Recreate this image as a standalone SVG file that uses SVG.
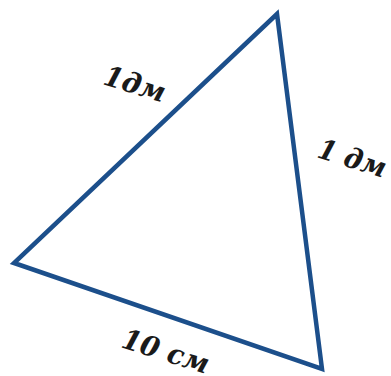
<svg xmlns="http://www.w3.org/2000/svg" width="391" height="376" viewBox="0 0 391 376">
<style>
.edge{fill:none;stroke:#1c4f8b;stroke-width:4.5;stroke-linejoin:miter}
.lbl{font-family:"DejaVu Serif","Liberation Serif",serif;font-style:italic;font-weight:bold;font-size:28px;fill:#1a1a1a}
</style>
<rect width="391" height="376" fill="#ffffff"/>
<g id="connectors">
<polygon class="edge" points="277,14 14,263 322,369"/>
</g>
<g id="label-left"><text class="lbl" transform="translate(102,84) rotate(17)" textLength="63" lengthAdjust="spacingAndGlyphs">1дм</text></g>
<g id="label-right"><text class="lbl" transform="translate(316,157) rotate(17.5)" textLength="70" lengthAdjust="spacingAndGlyphs">1 дм</text></g>
<g id="label-bottom"><text class="lbl" transform="translate(120,347) rotate(17.5)" textLength="90" lengthAdjust="spacingAndGlyphs">10 см</text></g>
</svg>
